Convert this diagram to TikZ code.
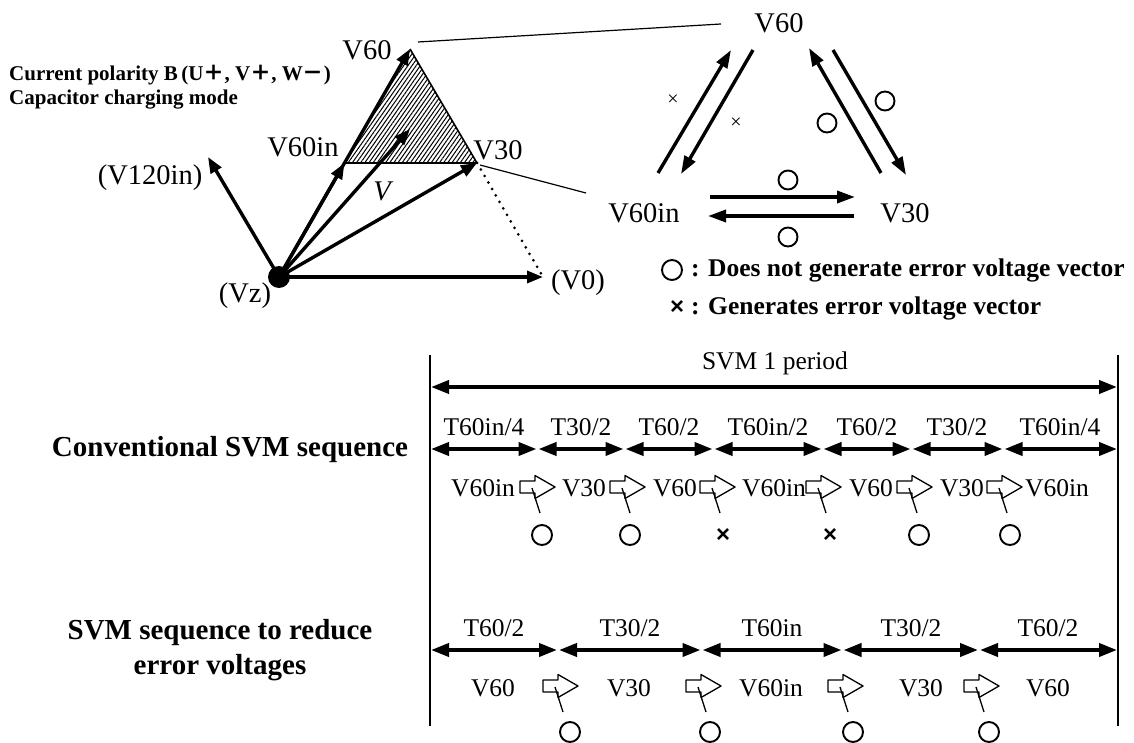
\documentclass[tikz,border=0pt]{standalone}
\usepackage{fontspec}
\setmainfont{Liberation Serif}
\newfontfamily\cjkf{Noto Sans CJK JP}
\newfontfamily\lsans{Liberation Sans}
\usetikzlibrary{arrows.meta,patterns.meta}
\newcommand{\fsz}[1]{\fontsize{#1}{#1}\selectfont}
\begin{document}
\begin{tikzpicture}[x=1pt,y=-1pt,line join=round,
  lbl/.style={font=\fsz{28.5}, inner sep=0},
  sq/.style={font=\fsz{25.5}, inner sep=0},
  bl/.style={font=\bfseries\fsz{29}, inner sep=0},
  lgd/.style={font=\bfseries\fsz{25.5}, inner sep=0},
  cp/.style={font=\bfseries\fsz{21}, inner sep=0},
  vec/.style={line width=3.4pt, -{Triangle[length=16pt,width=12pt]}},
  rdv/.style={line width=3.4pt, -{Triangle[length=18pt,width=12pt]}},
  dbl/.style={line width=3.8pt, {Triangle[length=18pt,width=13pt]}-{Triangle[length=18pt,width=13pt]}, shorten <=1pt, shorten >=1pt},
  circ/.style={circle, draw, line width=1.9pt, minimum size=20pt, inner sep=0},
  xm/.style={font=\lsans\bfseries\fsz{24}, inner sep=0},
  xs/.style={font=\fsz{20}, inner sep=0},
  ptr/.pic={\draw[line width=1.3pt, fill=white] (0,-6) -- (15,-6) -- (15,-11.5) -- (35,0) -- (15,11.5) -- (15,6) -- (0,6) -- cycle;
            \coordinate (-foot) at (12,1);
            \coordinate (-end) at (20,26);}
]
\useasboundingbox (0,0) rectangle (1134,743);

% ---------- left vector diagram ----------
\coordinate (O) at (279,277);
\coordinate (A60) at (410,49);
\coordinate (A60in) at (344.5,163);
\coordinate (A30) at (477,163);
\coordinate (A0) at (543,277);
\coordinate (A120) at (208,157);
\coordinate (AV) at (410,129);

\fill[pattern={Lines[angle=55,distance=3.4pt,line width=1pt]}] (A60) -- (A60in) -- (A30) -- cycle;
\draw[line width=1.6pt] (A60) -- (A30) -- (A60in);
\draw[line width=3pt, dash pattern=on 0pt off 7.5pt, line cap=round] (A30) -- (A0);

\draw[vec] (O) -- (A60);
\draw[vec] (O) -- (A60in);
\draw[vec] (O) -- (A30);
\draw[vec] (O) -- (AV);
\draw[vec] (O) -- (A120);
\draw[vec] (O) -- (A0);
\node[circle, fill, minimum size=22pt, inner sep=0] (Vz) at (O) {};

\node[lbl] (lV60) at (367,50) {V60};
\node[lbl] (lV60in) at (303,147) {V60in};
\node[lbl] (lV30) at (498,150) {V30};
\node[lbl, font=\itshape\fsz{28.5}] (lV) at (382,191) {V};
\node[lbl] (lV120) at (150,178) {(V120in)};
\node[lbl] (lVz) at (245,296) {(Vz)};
\node[lbl] (lV0) at (578,283) {(V0)};

\node[cp, anchor=west] (cp1) at (9,75) {Current polarity B\,(U{\cjkf ＋}, V{\cjkf ＋}, W{\cjkf －})};
\node[cp, anchor=west] (cp2) at (9,100) {Capacitor charging mode};

% zoom lines
\coordinate (z1s) at (418,42);
\coordinate (z1e) at (721,24);
\coordinate (z2s) at (480,165);
\coordinate (z2e) at (586,193);
\draw[line width=1.2pt] (z1s) -- (z1e);
\draw[line width=1.2pt] (z2s) -- (z2e);

% ---------- right transition triangle ----------
\node[lbl] (rV60) at (779,23) {V60};
\node[lbl] (rV60in) at (644,213) {V60in};
\node[lbl] (rV30) at (905,213) {V30};

\coordinate (u1s) at (658,173); \coordinate (u1e) at (731,50);
\coordinate (d1s) at (753,50);  \coordinate (d1e) at (681,174);
\coordinate (u2s) at (881,173); \coordinate (u2e) at (809,48);
\coordinate (d2s) at (833,50);  \coordinate (d2e) at (906,175);
\coordinate (h1s) at (710,197); \coordinate (h1e) at (855,197);
\coordinate (h2s) at (854,216); \coordinate (h2e) at (708,216);
\draw[rdv] (u1s) -- (u1e);
\draw[rdv] (d1s) -- (d1e);
\draw[rdv] (u2s) -- (u2e);
\draw[rdv] (d2s) -- (d2e);
\draw[rdv] (h1s) -- (h1e);
\draw[rdv] (h2s) -- (h2e);

\node[xs] (mx1) at (673,100) {×};
\node[xs] (mx2) at (736,123) {×};
\node[circ, minimum size=19pt] (mo1) at (885,101) {};
\node[circ, minimum size=19pt] (mo2) at (827,123) {};
\node[circ, minimum size=19pt] (mo3) at (788,180) {};
\node[circ, minimum size=19pt] (mo4) at (788,237) {};

% legend
\node[circ] (lg1) at (672,270) {};
\node[lgd, anchor=west] (lt1) at (691,270) {: Does not generate error voltage vector};
\node[xm] (lg2) at (677,308) {×};
\node[lgd, anchor=west] (lt2) at (691,308) {: Generates error voltage vector};

% ---------- sequences ----------
\coordinate (vl1t) at (430,355); \coordinate (vl1b) at (430,726);
\coordinate (vl2t) at (1118,355); \coordinate (vl2b) at (1118,726);
\draw[line width=1.5pt] (vl1t) -- (vl1b);
\draw[line width=1.5pt] (vl2t) -- (vl2b);

\node[sq] (svm) at (775,363) {SVM 1 period};
\coordinate (p0) at (430,387); \coordinate (p1) at (1118,387);
\draw[dbl] (p0) -- (p1);

\node[bl] (conv) at (230,450) {Conventional SVM sequence};
\node[bl, align=center, font=\bfseries\fontsize{29}{35}\selectfont] (red) at (220,650) {SVM sequence to reduce\\error voltages};

% row 1 times
\coordinate (a0) at (430,449);
\coordinate (a1) at (537.5,449);
\coordinate (a2) at (624.5,449);
\coordinate (a3) at (713.5,449);
\coordinate (a4) at (822.5,449);
\coordinate (a5) at (911.5,449);
\coordinate (a6) at (1003.5,449);
\coordinate (a7) at (1118,449);
\foreach \i [evaluate=\i as \j using int(\i+1)] in {0,...,6} \draw[dbl] (a\i) -- (a\j);
\node[sq] (t1) at (484,427) {T60in/4};
\node[sq] (t2) at (581,427) {T30/2};
\node[sq] (t3) at (669,427) {T60/2};
\node[sq] (t4) at (768,427) {T60in/2};
\node[sq] (t5) at (867,427) {T60/2};
\node[sq] (t6) at (957,427) {T30/2};
\node[sq] (t7) at (1060,427) {T60in/4};

% row 1 vectors
\node[sq] (v1) at (483,488) {V60in};
\node[sq] (v2) at (584,488) {V30};
\node[sq] (v3) at (675,488) {V60};
\node[sq] (v4) at (774,488) {V60in};
\node[sq] (v5) at (871,488) {V60};
\node[sq] (v6) at (962,488) {V30};
\node[sq] (v7) at (1057,488) {V60in};

\pic (q1) at (520,487) {ptr};
\pic (q2) at (610,487) {ptr};
\pic (q3) at (700,487) {ptr};
\pic (q4) at (806,487) {ptr};
\pic (q5) at (897,487) {ptr};
\pic (q6) at (987,487) {ptr};
\foreach \k in {1,...,6} \draw[line width=1.3pt] (q\k-foot) -- (q\k-end);

\node[circ] (c1) at (542,535) {};
\node[circ] (c2) at (630,535) {};
\node[xm] (c3) at (723,535) {×};
\node[xm] (c4) at (830,535) {×};
\node[circ] (c5) at (919,535) {};
\node[circ] (c6) at (1010,535) {};

% row 2 times
\coordinate (b0) at (430,650);
\coordinate (b1) at (558,650);
\coordinate (b2) at (701.5,650);
\coordinate (b3) at (842.5,650);
\coordinate (b4) at (979,650);
\coordinate (b5) at (1118,650);
\foreach \i [evaluate=\i as \j using int(\i+1)] in {0,...,4} \draw[dbl] (b\i) -- (b\j);
\node[sq] (s1) at (494,628) {T60/2};
\node[sq] (s2) at (630,628) {T30/2};
\node[sq] (s3) at (772,628) {T60in};
\node[sq] (s4) at (911,628) {T30/2};
\node[sq] (s5) at (1048,628) {T60/2};

\node[sq] (w1) at (493,688) {V60};
\node[sq] (w2) at (629,688) {V30};
\node[sq] (w3) at (771,688) {V60in};
\node[sq] (w4) at (921,688) {V30};
\node[sq] (w5) at (1048,688) {V60};

\pic (r1) at (543,686) {ptr};
\pic (r2) at (686,686) {ptr};
\pic (r3) at (828,686) {ptr};
\pic (r4) at (964,686) {ptr};
\foreach \k in {1,...,4} \draw[line width=1.3pt] (r\k-foot) -- (r\k-end);

\node[circ] (e1) at (570,732) {};
\node[circ] (e2) at (710,732) {};
\node[circ] (e3) at (853,732) {};
\node[circ] (e4) at (989,732) {};
\end{tikzpicture}
\end{document}
